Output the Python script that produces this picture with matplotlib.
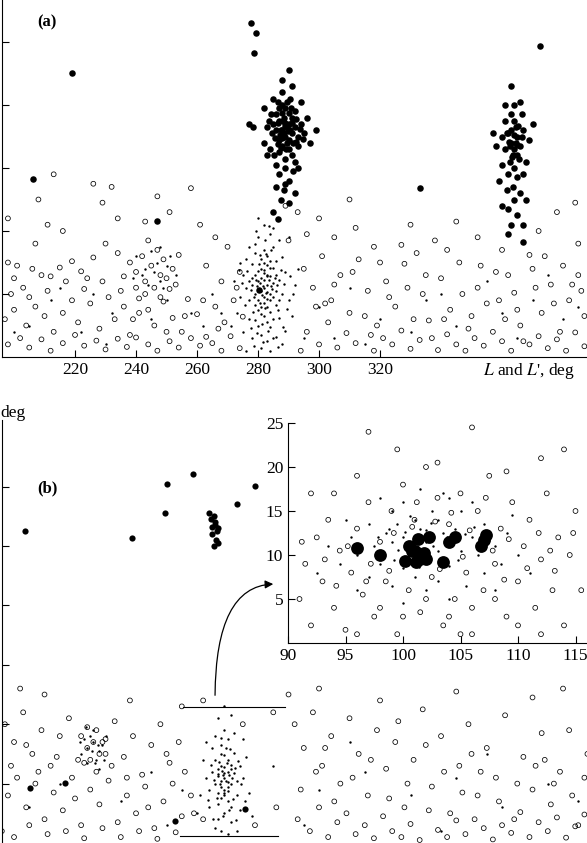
import matplotlib
matplotlib.use("Agg")
import matplotlib.pyplot as plt
import numpy as np

plt.rcParams['font.family'] = ['Liberation Serif', 'DejaVu Serif']
plt.rcParams['mathtext.fontset'] = 'stix'

# ---------------- Panel (a) data ----------------
a_open = [(198,15),(201,14.5),(199,10),(203,11),(206,14),(209,13),(212,12.8),(215,14.2),(219,15.2),(222,13.6),(224,12.5),(197,6),(200,7.5),(204,5),(207,8),(210,6.5),(213,4),(216,7),(219,9),(221,5.5),(225,8.5),(228,4.5),(231,9.5),(233,6),(236,8),(238,3.5),(241,7),(243,10),(246,5),(249,8.8),(252,6.2),(255,4),(257,9.2),(260,6.8),(263,3.2),(266,8),(269,5.5),(272,9),(275,6.4),(198,2),(202,3),(205,1.5),(209,2.8),(212,1),(216,2.2),(220,3.5),(223,1.8),(227,2.6),(230,1.2),(234,2.9),(237,1.6),(240,3.1),(244,2),(247,1),(251,2.5),(254,1.5),(258,3),(261,1.8),(265,2.2),(268,1),(271,3.3),(274,1.4),
(238,15),(240,13.5),(242,16),(243,12),(245,14.5),(246,11),(247,17),(248,13),(249,15.5),(250,12.5),(251,10.8),(252,14),(244,18.5),(240,11),(236,12.8),(254,16.2),(253,11.5),(241,9.3),(248,9.5),
(213,29),(226,27.5),(229,24.5),(232,27),(247,25.5),(251,23),(258,26.8),(234,22),(216,20),(211,21),(208,25),(198,22),(243,21.5),(261,21),(266,19),(270,17.5),(263,14.5),(268,12),(274,13.5),(230,18),(234,16.5),(226,15.8),(207,18),
(295,14),(298,11),(301,16),(304,9),(307,13),(310,7),(313,15.5),(316,10.5),(319,5),(322,12),(325,8),(328,14.8),(331,6),(334,10),(337,3),(340,12.5),(343,7.5),(346,15),(349,4.5),(352,11),(355,8.5),(358,13.5),(361,6),(364,10.2),(367,2.5),(370,14),(373,7),(376,11.5),(379,4),(382,9),(385,13),(387,6.5),(296,4),(300,2),(303,5.5),(306,1.5),(309,3.8),(312,2.2),(315,6.5),(318,1),(321,3),(324,2),(327,4.2),(330,1.3),(333,2.7),(336,5.8),(339,1.1),(342,3.6),(345,2),(348,1),(351,3),(354,1.8),(357,4),(360,2.5),(363,1),(366,5),(369,2),(372,3.3),(375,1.4),(378,2.8),(381,1),(384,3.9),(387,1.7),
(300,22),(305,19),(312,20.5),(318,17.5),(330,21),(338,18.5),(345,21.5),(352,19),(360,17),(372,20),(378,23),(385,18),(342,17),(327,17.8),(310,25),(296,19.5),(290,18.5),(293,23),(289,24),(384,24.5),(369,16.2),
(200,12.5),(205,9.5),(211,10.5),(217,12),(223,10.8),(229,12),(235,10.5),(239,6),(244,7.5),(250,4),(256,6.5),(262,9),(267,4.5),(273,11),(299,8),(305,11.5),(311,13.5),(317,3.5),(323,9.5),(329,11),(335,13),(341,6),(347,10),(353,14.5),(359,9),(365,7.5),(371,11),(377,8.5),(383,11.5),(294,1),(302,8.5),(320,15),(332,16.5),(350,6.5),(362,13),(374,16),(380,14.5),(386,10.5)]

a_dots = [(282,11),(281,10.5),(283,11.5),(280,12),(284,10),(282,9.5),(281,12.5),(283,13),(279,10),(285,11.8),(282,8.5),(280,9),(284,12.8),(281,14),(283,8),(278,11.5),(286,10.5),(282,13.8),(280,7.5),(284,7.2),(279,13),(285,14.2),(277,9),(287,12.2),(282,6.5),(281,15.5),(283,16),(278,14.8),(286,8.3),(276,11),(288,10),(280,5),(284,4.8),(282,17),(279,16.5),(285,17.5),(275,13),(289,13.5),(277,6),(287,6.2),(281,3.5),(283,2.5),(280,19),(284,19.5),(282,21),(274,9.5),(290,9),(276,15.5),(288,15.8),(273,7),(291,6.5),(278,3),(286,3.2),(281,1.5),(284,1),(272,12),(292,11.5),(275,4),(289,4.2),(279,18),(285,20.5),(283,5.5),(281,6.8),(280,10.8),(284,9),(282,12.2),(283,10.3),(281,8),(279,8.2),(285,9.5),(283,14.6),(280,13.6),(286,13),(278,12.6),(282,15),(284,15.2),(277,12),(287,9),(279,5.8),(285,6),(274,15),(293,14),(271,5),(295,3),(288,2),(276,1),(280,22),(290,19),
(281.5,11.3),(282.5,10.2),(280.5,11.8),(283.5,12.2),(281.2,9.8),(282.8,12.9),(280.2,10.4),(284.2,11.3),(279.5,11.2),(283.1,9.2),(281.8,13.3),(280.8,8.6),(284.6,10.8),(278.8,9.6),(285.5,12.6),(282.2,7.8),(279.2,12.3),(286.2,11.4),(283.8,14.1),(280.4,14.8),(277.8,10.6),(282.6,16.4),(285.8,15.3),(278.2,7.2),(286.6,7.4),(281.4,5.2),(283.4,4.2),(279.8,3.8),(287.5,13.8),(276.5,13.6),(284.8,3),(282.4,18.6),(279.4,20),(286.8,18.5),(277.2,17.4),(288.6,11.6),(275.8,8.2),(289.4,7.6),(274.6,11.8),(290.4,12.8),(283.6,20.8),(281.6,2.4),(286.4,1.6),(278.6,1.8),(280.6,16.2),(284.4,17),(277.6,4.6),(288.2,4.8),(273.6,13.8),(291.5,10),
(205,5),(212,9),(222,4),(232,7),(245,6),(250,9),(258,7),(265,10),(300,8),(310,11),(320,6),(335,9),(345,5),(360,7),(370,9),(380,6),(248,12),(243,14),(250,14.5),(240,16),(200,4),(215,11),(226,10),(230,2),(262,5),(268,7),(305,3),(315,2),(330,4),(340,10),(355,12),(365,3),(375,13),(385,8),
(246,13.5),(244,11.5),(249,11),(247,15),(242,13),(251,16),(245,16.8),(239,12.5),(253,13),(248,17.5)]

a_filled = [(277.7,53.0),(279.3,51.5),(278.7,48.3),(219.0,45.1),(206.2,28.3),(246.9,21.6),(280.3,10.6),(286.5,21.9),(333.1,26.9),(372.4,49.4),(366.9,18.2),
(288,36),(289,35),(290,37),(287,37.5),(291,35.5),(288.5,38),(289.5,34),(286,36),(292,36.5),(288,33.5),(290,38.8),(287,34.5),(291,38),(289,39.5),(285,37),(293,35),(288,40),(290,33),(286,38.5),(292,39),(287,32.5),(284.5,35.5),(294,37),(289,31.5),(291,32),(286.5,40.5),(290.5,41),(283.5,37.5),(295,35.5),(288,42),(284,33),(293,33.5),(289,30),(287,29),(290,28),(288.5,26.5),(286,30.5),(291.5,29.5),(289,27.5),(287.5,25),(290,24.5),(292,31),(283,36.5),(296,38),(285,41),(294,40.5),(288,44),(291,43),(282,34),(297,34),(289.5,36.5),(288.5,35.5),(287.5,36),(290.5,36),(289,37.2),(288,34.8),(286.5,33.8),(291.5,34),(283,32),(293,30),(286,27),(292,26),(285,23),(290,45.5),(282,39.5),
(287.2,35.2),(288.8,36.6),(289.8,35.8),(290.2,34.4),(287.8,38.8),(286.4,37.2),(291.2,37.2),(289.2,33),(288.2,37.4),(290.8,39.6),(285.6,34.8),(292.6,37.8),(286.8,39.6),(289.6,40.4),(287.4,33.2),(292.4,34.2),(284.2,38.6),(293.6,36.2),(285.2,32),(294.6,34.6),(277,37),(278.5,36.5),(299,36),
(363,34),(364,33),(365,35),(362,35.5),(364.5,36.5),(363.5,32),(366,33.5),(361,33),(364,37.5),(362.5,31),(365.5,31.5),(363,38.5),(360,35),(367,36),(364,30),(362,29),(365,28.5),(363.5,27),(361.5,26.5),(366,26),(364,25),(362,23.5),(365,22.5),(363,21),(360,30.5),(368,31),(358,33.5),(369,34.5),(361,37.5),(366.5,38.5),(364,40),(359,28),(367,29),(360,24),(368,25),(363,36),(364.5,34),(362.5,33.5),(365,32),(357,35.5),(370,37),(366,40.5),(361,40),(363,43),(362,19.5),(367,21),
(363.8,35.2),(364.8,33.6),(362.2,34.2),(365.2,36.6),(363.2,31.8),(366.4,35),(361.6,35.6)]

a_xticks = [220, 240, 260, 280, 300, 320]
a_yticks = [10, 20, 30, 40, 50]

# ---------------- Panel (b) data ----------------
b_open = [(197,20),(200,17),(203,22),(206,15),(209,19),(212,13),(215,18),(218,21),(221,14),(224,19.5),(227,12),(230,17.5),(233,20.5),(236,14.5),(239,18),(242,11.5),(245,16.5),(248,20),(251,13.5),(254,17),(198,8),(201,11),(204,6),(207,10),(210,4),(213,8.5),(216,5.5),(219,11),(222,3),(225,9),(228,6.5),(231,10.5),(234,3.5),(237,8),(240,5),(243,9.5),(246,2.5),(249,7),(252,10),(255,4.5),(258,8),(196,2),(200,1),(205,3),(211,1.5),(217,2),(223,0.8),(229,2.5),(235,1),(241,2),(247,0.7),(253,1.8),
(222,18),(224,16),(226,17),(228,15),(225,14),(227,19),(229,17),(223,13.5),(230,15),
(292,20),(295,16),(298,22),(301,13),(304,18),(307,10),(310,21),(313,15),(316,8),(319,19),(322,12.5),(325,17),(328,6),(331,14),(334,22.5),(337,9.5),(340,18),(343,5),(346,13),(349,20),(352,8),(355,16),(358,11),(361,21.5),(364,4),(367,14.5),(370,9),(373,18.5),(376,6.5),(379,12),(382,19),(385,3),(388,15),(293,4),(297,2),(300,6),(303,1),(306,3.5),(309,5),(312,1.5),(315,3),(318,0.8),(321,4.5),(324,2),(327,1),(330,3.2),(333,0.5),(336,5.5),(339,2.2),(342,1),(345,3.8),(348,1.5),(351,4),(354,2.5),(357,0.6),(360,3),(363,1.7),(366,5.2),(369,1),(372,3.5),(375,2),(378,4.3),(381,0.9),(384,2.8),(387,4.8),
(275,20),(285,22),(262,24),(255,23),(290,25),(300,26),(320,24),(345,25.5),(370,24.5),(380,26),(238,24),(210,25),(202,26),(262,4),(279,3),(286,6),
(199,13),(204,16.5),(208,12),(214,14.5),(220,7.5),(232,13),(237,11),(244,6),(250,15),(256,12),(259,5),(294,9),(299,12),(305,7),(311,11),(317,14),(323,7.5),(329,10),(335,16.5),(341,12),(347,8.5),(353,12),(359,7),(365,10),(371,13),(377,10),(383,8),(387,11),(302,16),(326,20.5),(350,15),(374,14)]

b_dots = [(269,11),(268,10.5),(270,12),(267,12.5),(271,10),(269,9),(268,13),(270,14),(266,10),(272,11.8),(269,8),(267,8.5),(271,13.2),(268,15),(270,7),(265,12),(273,10.5),(269,14.8),(267,6.5),(271,6),(266,14),(272,15.2),(264,9),(274,13),(269,5),(268,16.5),(270,17.5),(265,16),(273,8),(263,11),(275,11),(267,4),(271,3.5),(269,19),(266,18),(272,18.5),(262,14),(276,14.5),(264,6),(274,5.5),(268,2),(270,1.5),(267,21),(271,21.5),(269,23),(261,8),(277,8.5),(263,17),(275,17.5),(260,5),(278,4.5),(266,2.5),(273,2),(269,11.8),(268,9.5),(270,10.2),(267,11.2),(271,12.5),(269,12.8),(268,7.5),(270,8.8),
(268.5,11.5),(269.5,10.5),(267.5,10),(270.5,11.5),(268.2,12.2),(269.8,13.4),(266.8,11.6),(271.6,11),(268.8,8.4),(270.2,9.4),(267.2,13.6),(272.4,12.6),(265.6,10.6),(273.4,13.8),(266.4,7.6),(271.8,7.4),(269.4,16),(267.8,17.6),(270.8,15.8),(264.6,13.2),(274.4,10),(263.6,7.2),(275.6,7),(268.4,4.6),(270.4,5.6),(265.2,4),(272.8,3.8),
(224,16),(226,17),(228,15.5),(225,18),(227,14),(223,17.5),(229,16.5),(226,19),(224,13.5),(230,18),(222,15),(228,12.5),(225.5,15.5),(227.5,16.5),(226.5,13.5),(223.5,19.5),(229.5,14),(221.5,17),
(205,6),(215,10),(235,7),(245,12),(255,9),(285,13),(300,9),(315,12),(330,8),(345,11),(360,6),(375,10),(385,7),(250,3),(295,3),(340,2),(310,17),(355,15)]

b_filled = [(203.6,52.5),(238.7,51.3),(250.2,60.4),(249.5,55.6),(258.7,62.1),(273.1,57.1),(279.0,60.1),(205.2,9.3),(216.7,10.1),(252.8,3.7),(275.7,5.7),
(264.5,54.5),(265.5,55),(266,54),(264.8,53.2),(265.8,53.5),(266.5,52.5),(265,52),(266.2,51),(267,50.5),(265.5,50),(264,55.6),(266.8,53)]

zoom_top = [(255.4, 22.9), (288.8, 22.9)]
zoom_bot = [(254.4, 1.2), (286.5, 1.2)]
arrow_start = (265.9, 24.4)
arrow_end = (285.9, 43.6)
b_yticks = [10, 20, 30, 40, 50, 60]

# ---------------- Inset data ----------------
in_open = [(91,5),(91.5,9),(92,2),(92.5,12),(93,7),(93.5,14),(94,4),(94.5,10.5),(95,1.5),(95.5,8),(96,13),(96.5,5.5),(97,16),(97.5,3),(98,11.5),(98.5,7),(99,15),(99.5,1),(100,18),(100.5,6),(101,14),(101.5,3.5),(102,20),(102.5,7.5),(103,16.5),(103.5,2),(104,13.5),(104.5,5),(105,17),(105.5,8),(106,1),(106.5,15),(107,6),(107.5,19),(108,9),(108.5,13),(109,3),(109.5,16),(110,7),(110.5,11),(111,14),(111.5,4),(112,9.5),(112.5,17),(113,6),(113.5,12),(114,2),(114.5,10),(115,15),(115.5,6),
(94,17),(96,19),(97,24),(99.5,22),(103,20.5),(106,24.5),(109,19.5),(112,21),(114,22),(92,17),
(98,4),(100,3),(102,5),(104,3),(106,4),(108,5),(110,2),(96,1),(105,1),(112,1),
(91.2,11.5),(93.2,9.5),(95.2,11),(97.2,9),(99.2,12.5),(100.8,13.2),(102.8,13.8),(104.2,14.8),(105.8,12.8),(107.8,10.5),(109.2,11.8),(110.8,8.5),(112.8,10.5),(114.8,12.5),(98.8,8.2),(103.2,8.4),(105.2,9.8),(108.8,7.2),(96.8,7),(101.2,16),(107.2,16.5),(111.8,12.5),(94.2,6.5),(113.2,8.2)]
in_dots = [(101,11),(102,11.5),(103,10.5),(100,12),(102,12.8),(104,11),(101.5,13),(99,11.5),(103.5,12.5),(100.5,10),(105,10.5),(98.5,12.5),(101,14),(103,14),(104.5,13),(99.5,13.5),(102,9.5),(97.5,11),(106,12),(100,8.5),(104,8.8),(98,9),(106.5,10),(102.5,15),(99,15),(105,15),(97,13.5),(107,13.5),(101,7.5),(103,7),(96,10),(108,11),(95.5,12),(108.5,9),(100,16),(104,16.5),(97,7.5),(107,8),(102,6),(99,6.5),(105.5,6.5),(94.5,9),(109,12.5),(98,16.5),(106,16),(101.5,17.5),(103.5,17),(93.5,11),(110,10),(96,6),(108,6),(95,14),(109.5,14.5),(100,4.5),(104,5),(92.5,8),(111,8),
(100.2,12.6),(101.8,12.2),(102.6,11),(103.8,12),(99.6,10.6),(104.6,11.8),(98.8,13),(105.4,12.4),(100.6,14.4),(102.4,13.6),(103.2,9.6),(101.4,8.6),(106.2,13.2),(97.8,12),(99.2,9.4),(104.8,9.4)]
in_filled = [(96,10.8),(98,10),(100.2,9.3),(100.5,11),(101,10.5),(101.3,11.8),(101.5,9.6),(101.8,10.2),(102,9.5),(102.3,12),(101.1,9.2),(100.8,10.4),(103.5,9.2),(104,11.5),(104.5,12),(106.8,11),(107,11.7),(107.2,12.3)]
in_xticks = [90, 95, 100, 105, 110, 115]
in_yticks = [5, 10, 15, 20, 25]

# ---------------- Figure ----------------
fig = plt.figure(figsize=(5.87, 8.43), dpi=100)
W, H = 587, 843

def pax(x0, y0, x1, y1):
    return fig.add_axes([x0 / W, 1 - y1 / H, (x1 - x0) / W, (y1 - y0) / H])

def style(ax):
    for s in ['top', 'right']:
        ax.spines[s].set_visible(False)
    ax.tick_params(direction='in', length=5, width=0.8, labelsize=12.5)

def xy(pts):
    a = np.array(pts, dtype=float)
    return a[:, 0], a[:, 1]

OPEN = dict(s=12, facecolors='none', edgecolors='black', linewidths=0.55)
DOT = dict(s=3, c='black', linewidths=0)

px_per_deg = 3.05
axA = pax(2, -10, 640, 357)
axA.set_xlim(195.4 + 2 / px_per_deg, 195.4 + 640 / px_per_deg)
axA.set_ylim(0, 367 / 6.3)
style(axA)
x, y = xy(a_open); axA.scatter(x, y, **OPEN)
x, y = xy(a_dots); axA.scatter(x, y, **DOT)
x, y = xy(a_filled); axA.scatter(x, y, s=22, c='black', linewidths=0)
axA.set_xticks(a_xticks)
axA.set_yticks(a_yticks)
axA.set_yticklabels([])
fig.text(37 / W, 1 - 22 / H, '(a)', fontsize=12, fontweight='bold', va='center')
fig.text(483 / W, 1 - 371 / H, "$L$ and $L$', deg", fontsize=12.5, va='center')

axB = pax(2, 420, 640, 843)
axB.set_xlim(195.4 + 2 / px_per_deg, 195.4 + 640 / px_per_deg)
axB.set_ylim(0, 423 / 5.94)
style(axB)
axB.spines['bottom'].set_visible(False)
axB.tick_params(axis='x', bottom=False, labelbottom=False)
x, y = xy(b_open); axB.scatter(x, y, **OPEN)
x, y = xy(b_dots); axB.scatter(x, y, **DOT)
x, y = xy(b_filled); axB.scatter(x, y, s=20, c='black', linewidths=0)
axB.set_yticks(b_yticks)
axB.set_yticklabels([])
x, y = xy(zoom_top); axB.plot(x, y, color='black', lw=0.8)
x, y = xy(zoom_bot); axB.plot(x, y, color='black', lw=0.8)
axB.annotate('', xy=arrow_end, xytext=arrow_start,
             arrowprops=dict(arrowstyle='-|>', color='black', lw=0.9, mutation_scale=12,
                             connectionstyle='angle3,angleA=90,angleB=0'))
fig.text(37 / W, 1 - 488 / H, '(b)', fontsize=12, fontweight='bold', va='center')
fig.text(0, 1 - 413 / H, 'deg', fontsize=12.5, va='center')

axI = pax(288, 423, 288 + 26 * 11.5, 643)
axI.set_xlim(90, 116)
axI.set_ylim(0, 25)
style(axI)
axI.patch.set_facecolor('white')
x, y = xy(in_open); axI.scatter(x, y, **OPEN)
x, y = xy(in_dots); axI.scatter(x, y, **DOT)
x, y = xy(in_filled); axI.scatter(x, y, s=85, c='black', linewidths=0)
axI.set_xticks(in_xticks)
axI.set_yticks(in_yticks)

fig.savefig('out.png', dpi=100)
